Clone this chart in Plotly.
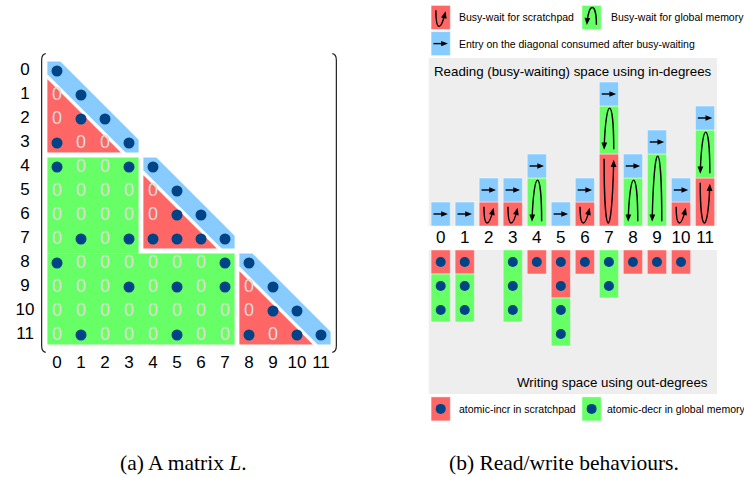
import math
import plotly.graph_objects as go

N = 12
labels = [str(i) for i in range(N)]

# strictly-lower nonzeros of the lower-triangular matrix L (row, col);
# every diagonal entry is nonzero as well
nz_rows = [2, 3, 4, 4, 6, 7, 7, 7, 7, 7, 8, 8, 9, 9, 9, 10, 11, 11, 11, 11]
nz_cols = [1, 0, 0, 3, 5, 1, 3, 4, 5, 6, 0, 7, 3, 5, 7, 9, 1, 5, 8, 10]

# diagonal blocks processed in scratchpad
block_start = [0, 4, 8]
block_end = [3, 7, 11]

RED = "#FF6666"
GREEN = "#66FF66"
BLUE = "#88CCFF"
DOT = "#004488"
GRAY = "#EEEEEE"
ZERO = "#DDDDDD"
SANS = "Liberation Sans, Arial, sans-serif"
SERIF = "Liberation Serif, Times New Roman, serif"


def block_of(i):
    for k, (s, e) in enumerate(zip(block_start, block_end)):
        if s <= i <= e:
            return k
    return -1


# in-degrees (per row) and out-degrees (per column), split by where the
# dependency lives: same block -> scratchpad, other block -> global memory
in_scr = [0] * N
in_glb = [0] * N
out_scr = [0] * N
out_glb = [0] * N
for r, c in zip(nz_rows, nz_cols):
    if block_of(r) == block_of(c):
        in_scr[r] += 1
        out_scr[c] += 1
    else:
        in_glb[r] += 1
        out_glb[c] += 1

shapes = []
annotations = []


def poly(pts, color, xref, yref, layer="below"):
    path = "M " + " L ".join(f"{x:.4f},{y:.4f}" for x, y in pts) + " Z"
    return dict(type="path", path=path, xref=xref, yref=yref,
                fillcolor=color, line=dict(width=0), layer=layer)


def stroke(path, xref, yref, width=1.4):
    return dict(type="path", path=path, xref=xref, yref=yref,
                line=dict(color="black", width=width), layer="above")


def head(tip, direction, xref, yref, length=0.3, half=0.12):
    dx, dy = direction
    n = math.hypot(dx, dy)
    ux, uy = dx / n, dy / n
    bx, by = tip[0] - ux * length, tip[1] - uy * length
    px, py = -uy, ux
    return poly([tip, (bx + px * half, by + py * half),
                 (bx - px * half, by - py * half)], "black", xref, yref, "above")


# ---------------- (a) the matrix ----------------
MG, WD, GP = 0.4, 0.54, 0.2
for k, (s, e) in enumerate(zip(block_start, block_end)):
    # diagonal band
    shapes.append(poly([(s - MG, s - MG), (s - MG + WD, s - MG),
                        (e + MG, e + MG - WD), (e + MG, e + MG),
                        (e + MG - WD, e + MG), (s - MG, s - MG + WD)],
                       BLUE, "x", "y"))
    # strictly-lower part of the diagonal block
    shapes.append(poly([(s - MG, s - MG + WD + GP), (s - MG, e + MG),
                        (e + MG - WD - GP, e + MG)], RED, "x", "y"))
    # off-diagonal rectangle to the left of the block
    if s > 0:
        bottom = block_start[k + 1] - MG if k + 1 < len(block_start) else e + MG
        shapes.append(poly([(-MG, s - MG), (s - 1 + MG, s - MG),
                            (s - 1 + MG, bottom), (-MG, bottom)], GREEN, "x", "y"))

# matrix brackets
shapes.append(dict(type="path", xref="x", yref="y", layer="above",
                   path="M -0.47,-0.72 Q -0.64,-0.70 -0.64,-0.45 L -0.64,11.45 "
                        "Q -0.64,11.70 -0.47,11.72",
                   line=dict(color="#222222", width=1.2)))
shapes.append(dict(type="path", xref="x", yref="y", layer="above",
                   path="M 11.47,-0.72 Q 11.64,-0.70 11.64,-0.45 L 11.64,11.45 "
                        "Q 11.64,11.70 11.47,11.72",
                   line=dict(color="#222222", width=1.2)))

nz_set = set(zip(nz_rows, nz_cols))
dot_x = [c for c in nz_cols] + list(range(N))
dot_y = [r for r in nz_rows] + list(range(N))
zero_x, zero_y = [], []
for r in range(N):
    for c in range(r):
        if (r, c) not in nz_set:
            zero_x.append(c)
            zero_y.append(r)

traces = []
traces.append(go.Scatter(x=zero_x, y=zero_y, mode="text", text=["0"] * len(zero_x),
                         textfont=dict(family=SANS, size=18, color=ZERO),
                         xaxis="x", yaxis="y", hoverinfo="skip"))
traces.append(go.Scatter(x=dot_x, y=dot_y, mode="markers",
                         marker=dict(color=DOT, size=11),
                         xaxis="x", yaxis="y", hoverinfo="skip"))
traces.append(go.Scatter(x=[-1.33] * N, y=list(range(N)), mode="text", text=labels,
                         textfont=dict(family=SANS, size=17, color="black"),
                         xaxis="x", yaxis="y", hoverinfo="skip"))
traces.append(go.Scatter(x=list(range(N)), y=[12.18] * N, mode="text", text=labels,
                         textfont=dict(family=SANS, size=17, color="black"),
                         xaxis="x", yaxis="y", hoverinfo="skip"))

# ---------------- (b) read / write behaviours ----------------
shapes.append(dict(type="rect", xref="x2", yref="y2", x0=-0.5, x1=11.5, y0=0, y1=7,
                   fillcolor=GRAY, line=dict(width=0), layer="below"))
shapes.append(dict(type="rect", xref="x2", yref="y2", x0=-0.5, x1=11.5, y0=-7, y1=-1,
                   fillcolor=GRAY, line=dict(width=0), layer="below"))

edge = dict(color="rgba(255,255,255,0.45)", width=1)
xs = list(range(N))


def bar(x, y, base, color):
    keep = [i for i in range(len(x)) if y[i] > 0]
    return go.Bar(x=[x[i] for i in keep], y=[y[i] for i in keep],
                  base=[base[i] for i in keep], width=0.8,
                  marker=dict(color=color, line=edge),
                  xaxis="x2", yaxis="y2", hoverinfo="skip")


# reading space: scratchpad waits, global waits, then the diagonal entry
traces.append(bar(xs, in_scr, [0] * N, RED))
traces.append(bar(xs, in_glb, in_scr, GREEN))
traces.append(bar(xs, [1] * N, [a + b for a, b in zip(in_scr, in_glb)], BLUE))
# writing space: scratchpad increments on top, global decrements below
traces.append(bar(xs, out_scr, [-1 - a for a in out_scr], RED))
traces.append(bar(xs, out_glb, [-1 - a - b for a, b in zip(out_scr, out_glb)], GREEN))

w_x, w_y = [], []
for i in range(N):
    for k in range(out_scr[i] + out_glb[i]):
        w_x.append(i)
        w_y.append(-1.5 - k)
traces.append(go.Scatter(x=w_x, y=w_y, mode="markers", marker=dict(color=DOT, size=10),
                         xaxis="x2", yaxis="y2", hoverinfo="skip"))
traces.append(go.Scatter(x=xs, y=[-0.55] * N, mode="text", text=labels,
                         textfont=dict(family=SANS, size=17, color="black"),
                         xaxis="x2", yaxis="y2", hoverinfo="skip"))


def right_arrow(xc, yc, xref="x2", yref="y2"):
    shapes.append(stroke(f"M {xc - 0.3:.3f},{yc:.3f} L {xc + 0.15:.3f},{yc:.3f}", xref, yref))
    shapes.append(head((xc + 0.3, yc), (1, 0), xref, yref, length=0.28, half=0.11))


def down_loop(xc, y0, y1, w=0.2, xref="x2", yref="y2"):
    # scratchpad wait: down the left, back up the right
    ys, ye, apex = y1 - 0.2, y1 - 0.24, y0 + 0.14
    c = (apex - 0.125 * (ys + ye)) / 0.75
    lean = 0.0 if y1 - y0 <= 1 else 0.6
    p2 = (xc + lean * w, c)
    d = (xc + w - p2[0], ye - p2[1])
    n = math.hypot(*d)
    stop = (xc + w - d[0] / n * 0.1, ye - d[1] / n * 0.1)
    shapes.append(stroke(f"M {xc - w:.3f},{ys:.3f} C {xc - w:.3f},{c:.3f} "
                         f"{p2[0]:.3f},{p2[1]:.3f} {stop[0]:.3f},{stop[1]:.3f}", xref, yref))
    shapes.append(head((xc + w, ye), d, xref, yref))


def up_loop(xc, y0, y1, w=0.2, xref="x2", yref="y2"):
    # global-memory wait: up the right, back down the left
    ys, ye, apex = y0 + 0.2, y0 + 0.18, y1 - 0.1
    c = (apex - 0.125 * (ys + ye)) / 0.75
    p2 = (xc - 0.6 * w, c)
    d = (xc - w - p2[0], ye - p2[1])
    n = math.hypot(*d)
    stop = (xc - w - d[0] / n * 0.1, ye - d[1] / n * 0.1)
    shapes.append(stroke(f"M {xc + w:.3f},{ys:.3f} C {xc + w:.3f},{c:.3f} "
                         f"{p2[0]:.3f},{p2[1]:.3f} {stop[0]:.3f},{stop[1]:.3f}", xref, yref))
    shapes.append(head((xc - w, ye), d, xref, yref))


for i in range(N):
    if in_scr[i]:
        down_loop(i, 0, in_scr[i])
    if in_glb[i]:
        up_loop(i, in_scr[i], in_scr[i] + in_glb[i])
    right_arrow(i, in_scr[i] + in_glb[i] + 0.5)

# legend swatches
LX_RED, LX_GREEN = 0.0, 6.28
LY1, LY2, LY3 = 8.69, 7.6, -7.62


def swatch(xc, yc, color):
    shapes.append(dict(type="rect", xref="x2", yref="y2", x0=xc - 0.4, x1=xc + 0.4,
                       y0=yc - 0.5, y1=yc + 0.5, fillcolor=color,
                       line=dict(color="rgba(255,255,255,0.45)", width=1), layer="below"))


swatch(LX_RED, LY1, RED)
down_loop(LX_RED, LY1 - 0.5, LY1 + 0.5)
swatch(LX_GREEN, LY1, GREEN)
up_loop(LX_GREEN, LY1 - 0.5, LY1 + 0.5)
swatch(LX_RED, LY2, BLUE)
right_arrow(LX_RED, LY2)
swatch(LX_RED, LY3, RED)
swatch(LX_GREEN, LY3, GREEN)
traces.append(go.Scatter(x=[LX_RED, LX_GREEN], y=[LY3, LY3], mode="markers",
                         marker=dict(color=DOT, size=10),
                         xaxis="x2", yaxis="y2", hoverinfo="skip"))


def label(text, x, y, size=10.5, anchor="left"):
    annotations.append(dict(text=text, x=x, y=y, xref="x2", yref="y2", showarrow=False,
                            xanchor=anchor, yanchor="middle",
                            font=dict(family=SANS, size=size, color="black")))


label("Busy-wait for scratchpad", 0.68, LY1)
label("Busy-wait for global memory", 7.0, LY1)
label("Entry on the diagonal consumed after busy-waiting", 0.68, LY2)
label("atomic-incr in scratchpad", 0.67, LY3)
label("atomic-decr in global memory", 6.84, LY3)
label("Reading (busy-waiting) space using in-degrees", 5.5, 6.42, size=13.3, anchor="center")
label("Writing space using out-degrees", 11.2, -6.54, size=13.3, anchor="right")

# captions
for txt, px in [("(a) A matrix <i>L</i>.", 183.5 / 744), ("(b) Read/write behaviours.", 564 / 744)]:
    annotations.append(dict(text=txt, x=px, y=1 - 463 / 477, xref="paper", yref="paper",
                            showarrow=False, xanchor="center", yanchor="middle",
                            font=dict(family=SERIF, size=21.5, color="black")))

fig = go.Figure(traces)
fig.update_layout(
    width=744, height=477,
    margin=dict(l=0, r=0, t=0, b=0),
    paper_bgcolor="white", plot_bgcolor="white",
    showlegend=False, barmode="overlay",
    shapes=shapes, annotations=annotations,
    xaxis=dict(domain=[0, 0.5], range=[-57 / 24, 315 / 24], visible=False, fixedrange=True),
    yaxis=dict(domain=[0, 1], range=[406 / 24, -71 / 24], visible=False, fixedrange=True),
    xaxis2=dict(domain=[0.5, 1], range=[-68.7 / 24.03, 303.3 / 24.03], visible=False,
                fixedrange=True, anchor="y2"),
    yaxis2=dict(domain=[0, 1], range=[-251 / 24, 226 / 24], visible=False,
                fixedrange=True, anchor="x2"),
)
fig.write_html("out.html")
